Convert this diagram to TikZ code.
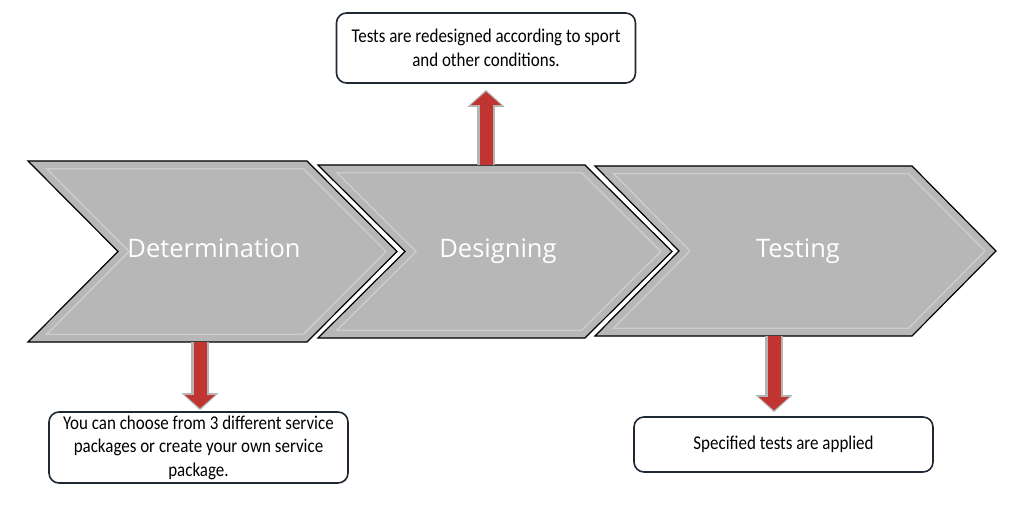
\documentclass[tikz,border=0pt]{standalone}
\usepackage{fontspec}
\usetikzlibrary{arrows.meta}
\newfontfamily\chevfont{Open Sans}
\newfontfamily\notefont[FakeStretch=0.87]{Carlito}
\definecolor{chevgray}{HTML}{B7B7B7}
\definecolor{chevlight}{HTML}{CDCDCD}
\definecolor{arrowred}{RGB}{192,52,50}
\definecolor{arrowrim}{HTML}{B4B4B4}
\definecolor{boxline}{HTML}{1F2933}

\tikzset{
  steplabel/.style={text=white, anchor=base, font=\chevfont\fontsize{25.5}{28}\selectfont},
  notebox/.style={draw=boxline, line width=1.6pt, rounded corners=10pt, fill=white,
    minimum width=299pt, align=center, inner sep=2pt,
    font=\notefont\fontsize{19.5}{23.5}\selectfont},
  rimarrow/.style={draw=arrowrim, line width=18pt, -{Triangle[width=36pt,length=17pt]}},
  redarrow/.style={draw=arrowred, line width=13pt, shorten >=2pt, -{Triangle[width=29pt,length=13pt]}}
}

\begin{document}
\begin{tikzpicture}[x=1pt,y=-1pt]
\useasboundingbox (0,0) rectangle (1024,510);

% the three chevrons
\foreach \xa/\xb/\yt/\yb/\d in {28/307/161/342/90, 318/585/165/338/87, 595/912/166/336/84}{
  \begin{scope}
    \clip (\xa,\yt) -- (\xb,\yt) -- ({\xb+\d},{(\yt+\yb)/2}) -- (\xb,\yb)
      -- (\xa,\yb) -- ({\xa+\d},{(\yt+\yb)/2}) -- cycle;
    \fill[chevgray] (0,0) rectangle (1024,510);
    \draw[chevlight, line width=17pt, line join=miter]
      (\xa,\yt) -- (\xb,\yt) -- ({\xb+\d},{(\yt+\yb)/2}) -- (\xb,\yb)
      -- (\xa,\yb) -- ({\xa+\d},{(\yt+\yb)/2}) -- cycle;
    \draw[chevgray, line width=14pt, line join=miter]
      (\xa,\yt) -- (\xb,\yt) -- ({\xb+\d},{(\yt+\yb)/2}) -- (\xb,\yb)
      -- (\xa,\yb) -- ({\xa+\d},{(\yt+\yb)/2}) -- cycle;
  \end{scope}
  \draw[black, line width=1.2pt]
    (\xa,\yt) -- (\xb,\yt) -- ({\xb+\d},{(\yt+\yb)/2}) -- (\xb,\yb)
    -- (\xa,\yb) -- ({\xa+\d},{(\yt+\yb)/2}) -- cycle;
}

\node[steplabel] (det) at (214,258) {Determination};
\node[steplabel] (des) at (498,258) {Designing};
\node[steplabel] (tst) at (798,258) {Testing};

\coordinate (detfoot) at (200,342);
\coordinate (destop) at (486,165);
\coordinate (tstfoot) at (774,336);

% notes
\node[notebox, minimum height=70pt] (redesign) at (486,48)
  {Tests are redesigned according to sport\\and other conditions.};
\node[notebox, minimum height=71pt] (packages) at (198.5,447.5)
  {You can choose from 3 different service\\packages or create your own service\\package.};
\node[notebox, minimum height=55pt] (applied) at (783.5,444.5)
  {Specified tests are applied};

% block arrows
\draw[rimarrow, shorten >=1pt] (detfoot) -- (detfoot |- packages.north);
\draw[redarrow, shorten >=3pt] (detfoot) -- (detfoot |- packages.north);
\draw[rimarrow, shorten >=6pt] (destop) -- (destop |- redesign.south);
\draw[redarrow, shorten >=8pt] (destop) -- (destop |- redesign.south);
\draw[rimarrow, shorten >=4pt] (tstfoot) -- (tstfoot |- applied.north);
\draw[redarrow, shorten >=6pt] (tstfoot) -- (tstfoot |- applied.north);
\end{tikzpicture}
\end{document}
